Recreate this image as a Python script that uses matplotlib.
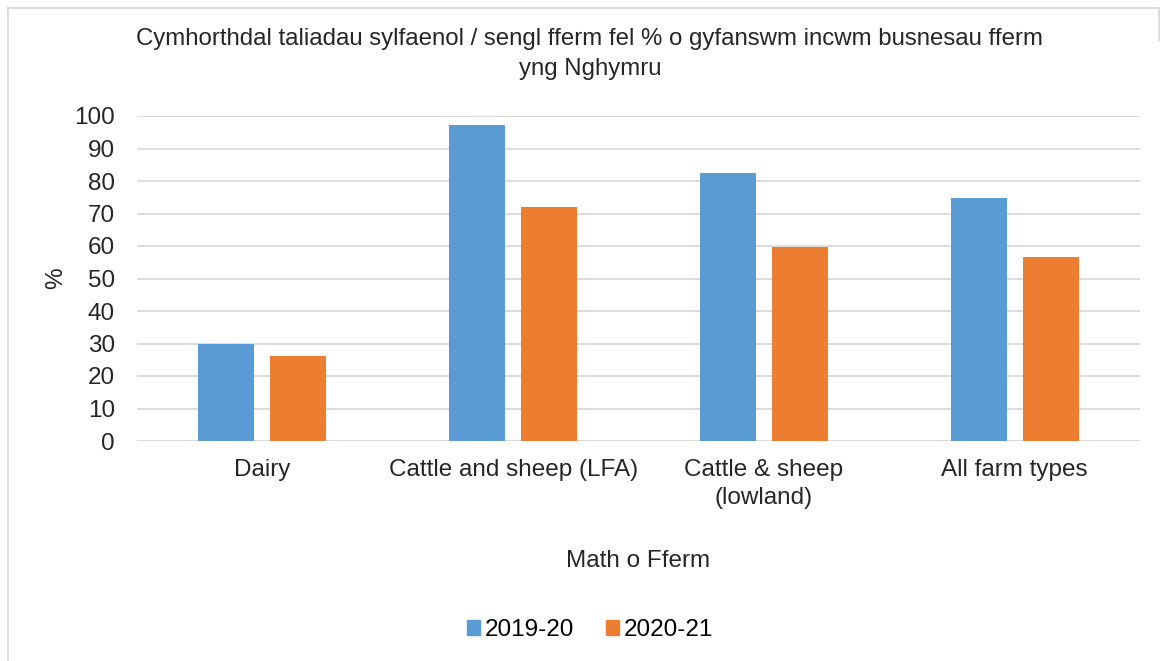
import numpy as np
import matplotlib
matplotlib.use("Agg")
import matplotlib.pyplot as plt
from matplotlib.lines import Line2D

plt.rcParams['font.family'] = ['Liberation Sans', 'DejaVu Sans']

# Data
categories = ["Dairy", "Cattle and sheep (LFA)", "Cattle & sheep\n(lowland)", "All farm types"]
series_names = ["2019-20", "2020-21"]
values_2019 = [29.7, 97.3, 82.5, 74.7]
values_2020 = [26.3, 72.1, 59.7, 56.6]
colors = ["#5b9bd5", "#ed7d31"]

fs = 17.5

fig = plt.figure(figsize=(11.6, 6.61), dpi=100)
ax = fig.add_axes([137 / 1160, 1 - 441 / 661, (1140 - 137) / 1160, (441 - 116) / 661])

x = np.arange(len(categories))
w = 0.223
off = 0.1436
ax.bar(x - off, values_2019, w, color=colors[0], label=series_names[0], zorder=3)
ax.bar(x + off, values_2020, w, color=colors[1], label=series_names[1], zorder=3)

ax.set_xlim(-0.5, len(categories) - 0.5)
ax.set_ylim(0, 100)
ax.set_yticks(range(0, 101, 10))
ax.set_xticks(x)
ax.set_xticklabels(categories, fontsize=fs, color="#262626", linespacing=1.35)
ax.tick_params(axis='y', labelsize=fs, colors="#262626", length=0, pad=16)
ax.tick_params(axis='x', length=0, pad=13)
ax.grid(axis='y', color="#d9d9d9", linewidth=1.3, zorder=0)
for s in ax.spines.values():
    s.set_visible(False)
ax.axhline(0, color="#d9d9d9", linewidth=1.3, zorder=1)

ax.set_ylabel("%", fontsize=fs, color="#262626")
ax.yaxis.set_label_coords(-70 / 1003, 0.5)

fig.text(590 / 1160, 1 - 54 / 661,
         "Cymhorthdal taliadau sylfaenol / sengl fferm fel % o gyfanswm incwm busnesau fferm\nyng Nghymru",
         ha="center", va="center", fontsize=17.3, color="#262626", linespacing=1.5)
fig.text(638 / 1160, 1 - 561 / 661, "Math o Fferm", ha="center", va="center",
         fontsize=fs, color="#262626")

handles = [plt.Rectangle((0, 0), 1, 1, color=c) for c in colors]
fig.legend(handles, series_names, loc="center", bbox_to_anchor=(590 / 1160, 1 - 630 / 661),
           ncol=2, frameon=False, fontsize=fs, handlelength=0.53, handleheight=0.53,
           handletextpad=0.2, columnspacing=1.3)

# light frame round the chart
fig.add_artist(Line2D([7.5 / 1160, 7.5 / 1160], [0, 1 - 7.5 / 661], color="#d9d9d9", lw=1.3))
fig.add_artist(Line2D([7.5 / 1160, 1158.5 / 1160], [1 - 7.5 / 661, 1 - 7.5 / 661], color="#d9d9d9", lw=1.3))
fig.add_artist(Line2D([1158.5 / 1160, 1158.5 / 1160], [1 - 7.5 / 661, 1 - 40 / 661], color="#d9d9d9", lw=1.3))

fig.savefig("out.png", dpi=100)
